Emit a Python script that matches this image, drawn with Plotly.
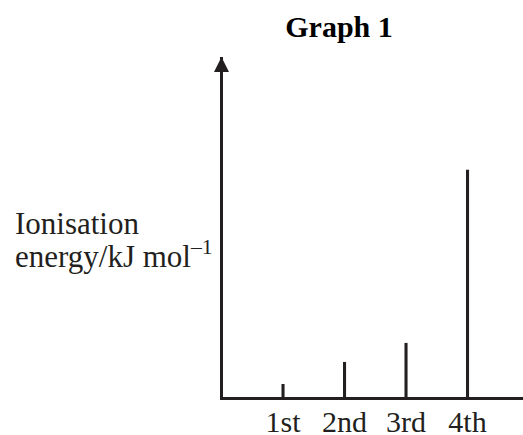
import plotly.graph_objects as go

categories = ["1st", "2nd", "3rd", "4th"]
positions = [1, 2, 3, 4]
energies = [13, 35, 54, 227]

INK = "#231f20"
FONT = "Liberation Serif"

fig = go.Figure()
fig.add_trace(go.Bar(
    x=positions, y=energies, width=0.05,
    marker=dict(color=INK, line=dict(width=0)),
    showlegend=False, hoverinfo="skip",
))

fig.update_layout(
    width=523, height=435,
    margin=dict(l=223, r=0, t=57, b=38),
    paper_bgcolor="white", plot_bgcolor="white",
    font=dict(family=FONT, size=30, color=INK),
    xaxis=dict(
        range=[0.024, 4.902], tickvals=positions, ticktext=categories,
        showgrid=False, zeroline=False, showline=True, linewidth=3,
        linecolor=INK, ticks="", automargin=False, ticklabelstandoff=-4,
        tickfont=dict(family=FONT, size=30, color=INK),
    ),
    yaxis=dict(
        range=[0, 339.5], showgrid=False, zeroline=False, showline=True,
        linewidth=3, linecolor=INK, showticklabels=False, ticks="",
        automargin=False,
    ),
    title=dict(
        text="<b>Graph 1</b>", x=339 / 523, xanchor="center",
        xref="container", y=1 - 26 / 435, yanchor="middle", yref="container",
        font=dict(family=FONT, size=30, color="#000000"),
    ),
    annotations=[
        dict(x=0, y=1, xref="paper", yref="paper", ax=0, ay=30,
             axref="pixel", ayref="pixel", showarrow=True, arrowhead=2,
             arrowsize=1, arrowwidth=3, arrowcolor=INK, text="", xshift=-1.5),
        dict(x=(13 - 223) / 300, y=(396.5 - 223) / 339.5, xref="paper",
             yref="paper", xanchor="left", yanchor="middle",
             text="Ionisation", showarrow=False,
             font=dict(family=FONT, size=31, color=INK)),
        dict(x=(13 - 223) / 300, y=(396.5 - 254) / 339.5, xref="paper",
             yref="paper", xanchor="left", yanchor="middle",
             text="energy/kJ mol<sup>–1</sup>", showarrow=False,
             font=dict(family=FONT, size=31, color=INK)),
    ],
)

fig.write_html("out.html", config={"displayModeBar": False},
               post_script="document.body.style.margin='0';")
